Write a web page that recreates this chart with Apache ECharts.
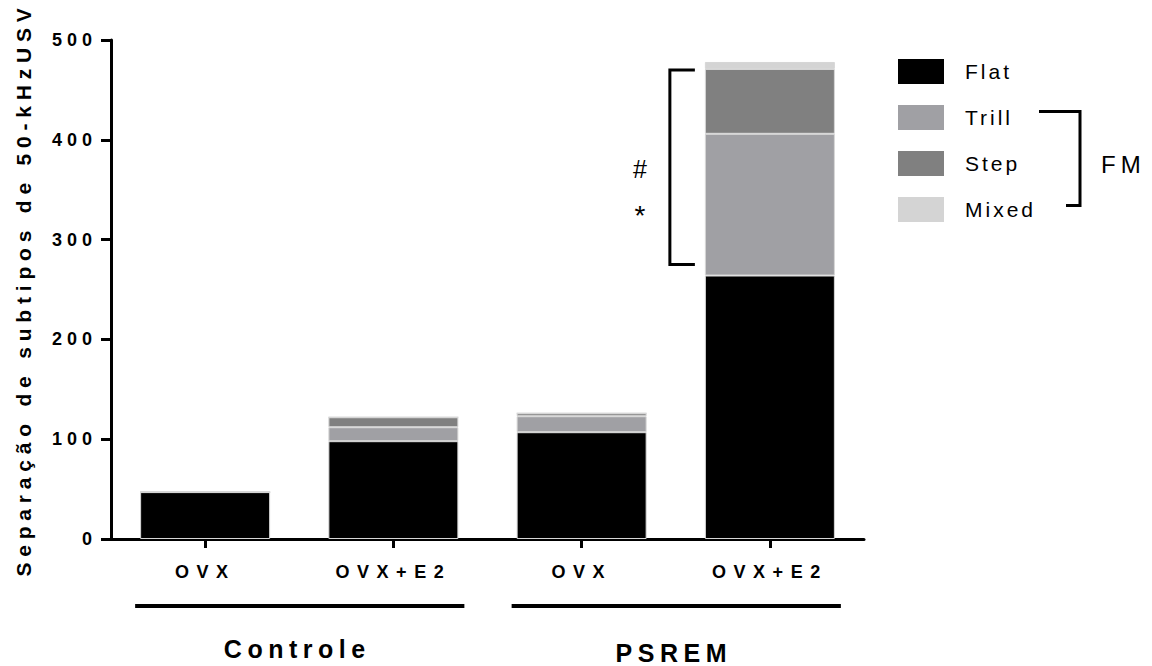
<!DOCTYPE html>
<html>
<head>
<meta charset="utf-8">
<script src="https://cdn.jsdelivr.net/npm/echarts@6/dist/echarts.min.js"></script>
<style>
html,body{margin:0;padding:0;background:#fff;}
#chart{width:1152px;height:666px;}
</style>
</head>
<body>
<div id="chart"></div>
<script>
// ---- data ----
const categories = ['OVX', 'OVX+E2', 'OVX', 'OVX+E2'];
const groupNames = ['Controle', 'PSREM'];
const groupMembers = [[0, 1], [2, 3]];
const seriesNames = ['Flat', 'Trill', 'Step', 'Mixed'];
const flat  = [47, 98, 107, 264];
const trill = [0, 14, 16, 142];
const step  = [0, 10, 3, 65];
const mixed = [0, 0, 0, 7];
const yTicks = [0, 100, 200, 300, 400, 500];
const sigRange = [275, 470];      // significance bracket span (values) on last bar
const sigMarks = ['#', '*'];
const fmMembers = ['Trill', 'Mixed'];
const yTitle = 'Separação de subtipos de 50-kHzUSV';

const colors = ['#000000', '#a0a0a4', '#808080', '#d4d4d4'];
const FONT = "'Liberation Sans', Arial, Helvetica, sans-serif";
const values = [flat, trill, step, mixed];

const chart = echarts.init(document.getElementById('chart'), null, {renderer: 'svg'});

const option = {
  animation: false,
  backgroundColor: '#fff',
  grid: {left: 111, right: 288, top: 40, bottom: 127, containLabel: false},
  legend: {
    orient: 'vertical',
    left: 898, top: 59, padding: 0,
    itemWidth: 46, itemHeight: 25, itemGap: 21,
    icon: 'rect',
    itemStyle: {borderWidth: 0},
    textStyle: {fontFamily: FONT, fontSize: 21, color: '#000', padding: [0, 0, 0, 16]},
    data: seriesNames,
    selectedMode: false
  },
  xAxis: {
    type: 'category',
    data: categories,
    axisLine: {lineStyle: {color: '#000', width: 3}},
    axisTick: {show: true, alignWithLabel: true, length: 9, lineStyle: {color: '#000', width: 3}},
    axisLabel: {fontFamily: FONT, fontSize: 18, fontWeight: 'bold', color: '#000', margin: 24, interval: 0}
  },
  yAxis: {
    type: 'value',
    min: yTicks[0], max: yTicks[yTicks.length - 1], interval: yTicks[1] - yTicks[0],
    name: yTitle,
    nameLocation: 'middle',
    nameGap: 77,
    nameTextStyle: {fontFamily: FONT, fontSize: 21, fontWeight: 'bold', color: '#000'},
    splitLine: {show: false},
    axisLine: {show: true, lineStyle: {color: '#000', width: 3}},
    axisTick: {show: true, length: 10, lineStyle: {color: '#000', width: 3}},
    axisLabel: {fontFamily: FONT, fontSize: 18, fontWeight: 'bold', color: '#000', margin: 14}
  },
  series: seriesNames.map((name, i) => ({
    name: name,
    type: 'bar',
    stack: 'total',
    barWidth: 130,
    data: values[i],
    itemStyle: {color: colors[i], borderColor: '#d6d6d6', borderWidth: 1},
    emphasis: {disabled: true}
  }))
};
chart.setOption(option);

function buildGraphics() {
  const g = [];
  const half = 65;
  const yAxisBottom = chart.convertToPixel({yAxisIndex: 0}, 0);
  // group lines and labels
  groupNames.forEach((name, gi) => {
    const [a, b] = groupMembers[gi];
    const xa = chart.convertToPixel({xAxisIndex: 0}, a);
    const xb = chart.convertToPixel({xAxisIndex: 0}, b);
    g.push({
      type: 'line', silent: true,
      shape: {x1: xa - half - 5, y1: yAxisBottom + 67, x2: xb + half + 6, y2: yAxisBottom + 67},
      style: {stroke: '#000', lineWidth: 4}
    });
    g.push({
      type: 'text', silent: true,
      x: (xa + xb) / 2 - 2, y: yAxisBottom + (gi === 0 ? 110 : 114),
      style: {text: name, font: 'bold 25px ' + FONT, lineHeight: 20, fill: '#000', align: 'center', verticalAlign: 'middle'}
    });
  });
  // significance bracket on last bar
  const last = categories.length - 1;
  const xc = chart.convertToPixel({xAxisIndex: 0}, last);
  const yTop = chart.convertToPixel({yAxisIndex: 0}, sigRange[1]);
  const yBot = chart.convertToPixel({yAxisIndex: 0}, sigRange[0]);
  const xArm = xc - half - 10, xV = xc - half - 35;
  g.push({
    type: 'polyline', silent: true,
    shape: {points: [[xArm, yTop], [xV, yTop], [xV, yBot], [xArm, yBot]]},
    style: {stroke: '#000', lineWidth: 3, fill: null}
  });
  const midY = (yTop + yBot) / 2;
  g.push({type: 'text', silent: true, x: xV - 30, y: midY + 2,
    style: {text: sigMarks[0], font: '25px ' + FONT, fill: '#000', align: 'center', verticalAlign: 'middle'}});
  g.push({type: 'text', silent: true, x: xV - 30, y: midY + 48,
    style: {text: sigMarks[1], font: '28px ' + FONT, fill: '#000', align: 'center', verticalAlign: 'middle'}});
  // FM bracket next to legend (Trill..Mixed rows)
  const legendTop = option.legend.top, rowH = option.legend.itemHeight + option.legend.itemGap;
  const rowC = i => legendTop + option.legend.itemHeight / 2 + i * rowH;
  const r1 = rowC(seriesNames.indexOf(fmMembers[0])) - 6;
  const r2 = rowC(seriesNames.indexOf(fmMembers[1])) - 4;
  g.push({
    type: 'polyline', silent: true,
    shape: {points: [[1039, r1], [1080, r1], [1080, r2], [1066, r2]]},
    style: {stroke: '#000', lineWidth: 3, fill: null}
  });
  g.push({type: 'text', silent: true, x: 1101, y: (r1 + r2) / 2 + 6,
    style: {text: 'FM', font: '24px ' + FONT, fill: '#000', align: 'left', verticalAlign: 'middle'}});
  chart.setOption({graphic: g});
}
buildGraphics();

// letter spacing (SVG text attribute)
const spacingMap = {};
categories.forEach(c => spacingMap[c] = 7.5);
yTicks.forEach(t => spacingMap[String(t)] = 5);
groupNames.forEach(n => spacingMap[n] = 5.5);
seriesNames.forEach(n => spacingMap[n] = 3);
spacingMap['FM'] = 5;
spacingMap[yTitle] = 5.8;
function applySpacing() {
  document.querySelectorAll('#chart text').forEach(t => {
    const s = spacingMap[t.textContent];
    if (s) t.setAttribute('letter-spacing', s);
  });
}
applySpacing();
setTimeout(applySpacing, 0);
setTimeout(applySpacing, 100);
chart.on('finished', applySpacing);
</script>
</body>
</html>
